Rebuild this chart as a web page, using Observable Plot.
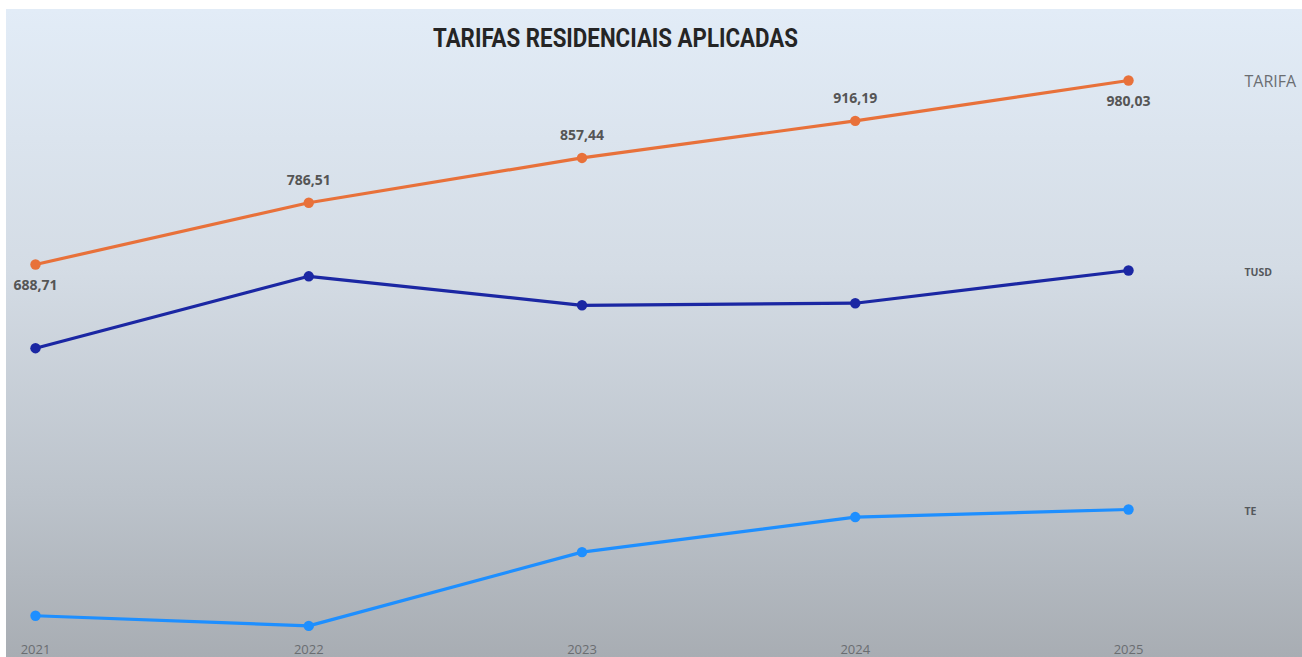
<!DOCTYPE html>
<html>
<head>
<meta charset="utf-8">
<script src="https://cdn.jsdelivr.net/npm/d3@7"></script>
<script src="https://cdn.jsdelivr.net/npm/@observablehq/plot@0.6"></script>
<style>
  html, body { margin: 0; padding: 0; background: #ffffff; }
  #panel {
    position: absolute; left: 6px; top: 9px; width: 1296px; height: 648px;
    background: linear-gradient(to bottom, #e2ecf7 0%, #d4dce5 40%, #bcc3cb 75%, #a8adb3 100%);
    overflow: hidden;
  }
  #title {
    position: absolute; left: 427px; top: 15px; white-space: nowrap;
    font-family: Roboto, "DejaVu Sans", sans-serif;
    font-weight: bold; font-size: 25px; color: #252525;
    transform-origin: 0 0;
  }
  #chart { position: absolute; left: 0; top: 0; }
  #chart svg { background: transparent; overflow: visible; }
</style>
</head>
<body>
<div id="panel">
  <div id="chart"></div>
  <div id="title">TARIFAS RESIDENCIAIS APLICADAS</div>
</div>
<script>
const years = [2021, 2022, 2023, 2024, 2025];
const tarifa = [688.71, 786.51, 857.44, 916.19, 980.03];
const tusd = [556.2, 670.0, 624.1, 627.4, 679.2];
const te = [132.5, 116.5, 233.3, 288.8, 300.8];
const seriesNames = ["TARIFA", "TUSD", "TE"];
const seriesColors = ["#e8713a", "#1b27a3", "#1e8fff"];

const valuesBySeries = [tarifa, tusd, te];
const rows = [];
seriesNames.forEach((s, i) => {
  years.forEach((y, j) => rows.push({series: s, year: y, value: valuesBySeries[i][j], idx: j}));
});
const fmt = v => v.toFixed(2).replace(".", ",");
const tarifaRows = rows.filter(d => d.series === "TARIFA");
const lastRows = rows.filter(d => d.year === years[years.length - 1]);
const labelAbove = tarifaRows.filter(d => d.idx !== 0 && d.idx !== years.length - 1);
const labelBelow = tarifaRows.filter(d => d.idx === 0 || d.idx === years.length - 1);

const chart = Plot.plot({
  width: 1296,
  height: 648,
  marginLeft: 29,
  marginRight: 174,
  marginTop: 58.4,
  marginBottom: 21.2,
  style: {background: "transparent", fontFamily: "'Open Sans', sans-serif"},
  x: {domain: [2021, 2025], axis: null},
  y: {domain: [100, 1000], axis: null},
  color: {domain: seriesNames, range: seriesColors},
  marks: [
    Plot.axisX({ticks: years, tickFormat: d => String(d), tickSize: 0, tickPadding: 8, label: null,
      fontSize: 13, fill: "#6a6d71", fontFamily: "'Open Sans', sans-serif"}),
    Plot.line(rows, {x: "year", y: "value", z: "series", stroke: "series", strokeWidth: 3.2, curve: "linear"}),
    Plot.dot(rows, {x: "year", y: "value", fill: "series", r: 5.2}),
    Plot.text(labelAbove, {x: "year", y: "value", text: d => fmt(d.value), dy: -22,
      fontSize: 14, fontWeight: "bold", fill: "#555555", fontFamily: "'Open Sans', sans-serif"}),
    Plot.text(labelBelow, {x: "year", y: "value", text: d => fmt(d.value), dy: 21,
      fontSize: 14, fontWeight: "bold", fill: "#555555", fontFamily: "'Open Sans', sans-serif"}),
    Plot.text(lastRows.filter(d => d.series === "TARIFA"), {x: "year", y: "value", text: "series", dx: 116, dy: 1,
      textAnchor: "start", fontSize: 16, fill: "#6b6e72", fontFamily: "'Open Sans', sans-serif"}),
    Plot.text(lastRows.filter(d => d.series !== "TARIFA"), {x: "year", y: "value", text: "series", dx: 116, dy: 2,
      textAnchor: "start", fontSize: 10.5, fontWeight: "bold", fill: "#55585c", fontFamily: "'Open Sans', sans-serif"})
  ]
});
document.getElementById("chart").appendChild(chart);

// condense the title to the reference's narrow face
const t = document.getElementById("title");
const w = t.getBoundingClientRect().width;
t.style.transform = `scaleX(${365 / w})`;
</script>
</body>
</html>
